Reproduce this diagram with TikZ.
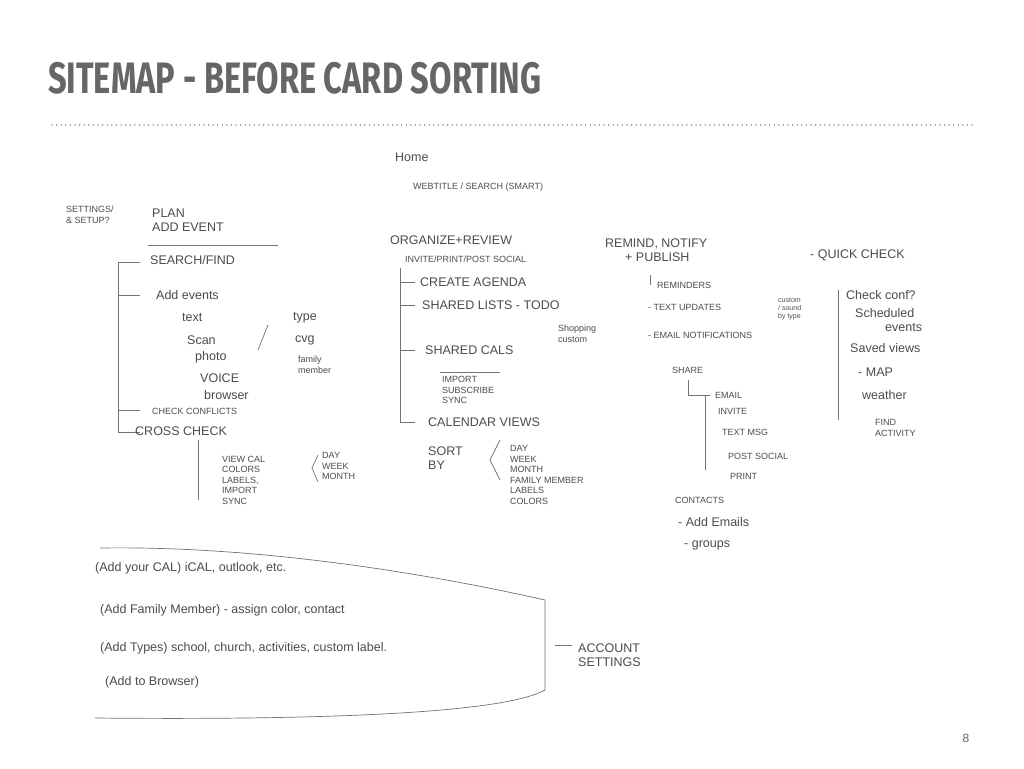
\documentclass[tikz,border=0pt]{standalone}
\usepackage{fontspec}
\setmainfont{Liberation Sans}
\newfontfamily\titlefont{Fira Sans}
\begin{document}
\begin{tikzpicture}[x=1pt,y=-1pt,
  hw/.style={anchor=west,inner sep=0pt,font=\fontsize{12.5}{13.5}\selectfont,text=black!70,align=left},
  sm/.style={hw,font=\fontsize{9}{10.5}\selectfont},
  pen/.style={draw=black!55,line width=0.7pt}]
\useasboundingbox (0,0) rectangle (1024,768);
\fill[white] (0,0) rectangle (1024,768);
\node[anchor=west,inner sep=0pt,text=black!60,font=\titlefont\bfseries\fontsize{44}{46}\selectfont] (title) at (48,78) {\scalebox{0.74}[1]{SITEMAP - BEFORE CARD SORTING}};
\draw[black!45,line width=1.2pt,dash pattern=on 0.1pt off 4.5pt,line cap=round] (52,125) -- (975,125);
\node[anchor=center,text=black!60,font=\fontsize{12}{12}\selectfont] (pg) at (966,738) {8};
% top
\node[hw] (home) at (395,157) {Home};
\node[sm] (web) at (413,187) {WEBTITLE / SEARCH (SMART)};
% left column
\node[sm] (settings) at (66,215) {SETTINGS/\\ \& SETUP?};
\node[hw] (plan) at (152,220) {PLAN\\ADD EVENT};
\draw[pen] (148,245) -- (278,245);
\coordinate (lt) at (118,262); \coordinate (lb) at (118,432);
\draw[pen] (lt) -- (lb);
\foreach \y in {262,295,410,432}{\draw[pen] (118,\y) -- (140,\y);}
\node[hw] (search) at (150,260) {SEARCH/FIND};
\node[hw] (add) at (156,295) {Add events};
\node[hw] (text) at (182,318) {text};
\node[hw] (scan) at (187,340) {Scan};
\node[hw] (photo) at (195,357) {photo};
\node[hw] (voice) at (200,378) {VOICE};
\node[hw] (browser) at (204,395) {browser};
\node[sm] (conf) at (152,411) {CHECK CONFLICTS};
\node[hw] (cross) at (135,431) {CROSS CHECK};
\draw[pen] (258,350) -- (268,325);
\node[hw] (type) at (293,318) {type};
\node[hw] (cvg) at (295,340) {cvg};
\node[sm] (fam) at (298,365) {family\\member};
\draw[pen] (198,440) -- (198,500);
\node[sm,align=left] (viewcal) at (222,480) {VIEW CAL\\COLORS\\LABELS,\\IMPORT\\SYNC};
\draw[pen] (318,455) -- (312,468) -- (318,482);
\node[sm] (dwm) at (322,466) {DAY\\WEEK\\MONTH};
% middle
\node[hw] (org) at (390,240) {ORGANIZE+REVIEW};
\node[sm] (inv) at (405,259) {INVITE/PRINT/POST SOCIAL};
\draw[pen] (400,268) -- (400,422);
\foreach \y in {282,305,350,422}{\draw[pen] (400,\y) -- (415,\y);}
\node[hw] (agenda) at (420,282) {CREATE AGENDA};
\node[hw] (shared) at (422,305) {SHARED LISTS - TODO};
\node[sm] (shop) at (558,334) {Shopping\\custom};
\node[hw] (scals) at (425,350) {SHARED CALS};
\draw[pen] (440,372) -- (500,372);
\node[sm] (imp) at (442,390) {IMPORT\\SUBSCRIBE\\SYNC};
\node[hw] (cviews) at (428,422) {CALENDAR VIEWS};
\node[hw] (sort) at (428,458) {SORT\\BY};
\draw[pen] (500,440) -- (490,460) -- (500,480);
\node[sm] (views2) at (510,475) {DAY\\WEEK\\MONTH\\FAMILY MEMBER\\LABELS\\COLORS};
% remind
\node[hw] (remind) at (605,250) {REMIND, NOTIFY\\\hspace{20pt}+ PUBLISH};
\node[hw] (quick) at (810,255) {- QUICK CHECK};
\draw[pen] (650,275) -- (650,285);
\node[sm] (rem) at (657,285) {REMINDERS};
\node[sm] (txt) at (648,307) {- TEXT UPDATES};
\node[sm,font=\fontsize{7}{8}\selectfont] (cust) at (778,309) {custom\\/ sound\\by type};
\node[sm] (emailn) at (648,335) {- EMAIL NOTIFICATIONS};
\node[sm] (share) at (672,370) {SHARE};
\draw[pen] (688,380) -- (688,395) -- (710,395);
\draw[pen] (705,395) -- (705,470);
\node[sm] (email) at (715,395) {EMAIL};
\node[sm] (invite) at (718,411) {INVITE};
\node[sm] (tmsg) at (722,432) {TEXT MSG};
\node[sm] (post) at (728,456) {POST SOCIAL};
\node[sm] (print) at (730,476) {PRINT};
\node[sm] (cont) at (675,500) {CONTACTS};
\node[hw] (emails) at (678,522) {- Add Emails};
\node[hw] (groups) at (684,545) {- groups};
% quick check
\draw[pen] (838,290) -- (838,420);
\node[hw] (cc) at (846,295) {Check conf?};
\node[hw] (sched) at (855,320) {Scheduled\\\hspace{30pt}events};
\node[hw] (saved) at (850,348) {Saved views};
\node[hw] (map) at (858,372) {- MAP};
\node[hw] (weather) at (862,395) {weather};
\node[sm] (find) at (875,428) {FIND\\ACTIVITY};
% bottom
\node[hw] (addcal) at (95,568) {(Add your CAL) iCAL, outlook, etc.};
\node[hw] (addfam) at (100,610) {(Add Family Member) - assign color, contact};
\node[hw] (addtyp) at (100,648) {(Add Types) school, church, activities, custom label.};
\node[hw] (addbr) at (105,682) {(Add to Browser)};
\draw[pen] (100,548) .. controls (300,545) and (500,590) .. (545,600) -- (545,690) .. controls (500,715) and (300,720) .. (95,718);
\draw[pen] (555,645) -- (572,645);
\node[hw] (acct) at (578,655) {ACCOUNT\\SETTINGS};
\end{tikzpicture}
\end{document}
